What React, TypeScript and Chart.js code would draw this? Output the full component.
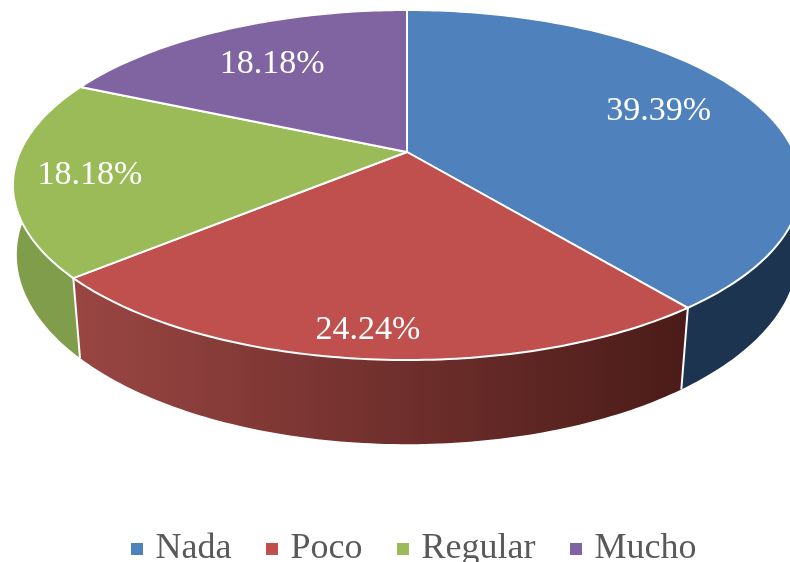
import React, { useEffect, useRef } from "react";
import { Chart, registerables } from "chart.js";

Chart.register(...registerables);

const categories = ["Nada", "Poco", "Regular", "Mucho"];
const shares = [39.39, 24.24, 18.18, 18.18];
const topColors = ["#4f81bd", "#c0504d", "#9bbb59", "#8064a2"];
const sideStart = ["#1d3450", "#9a4643", "#7f9d4a", "#5f4a7c"];
const sideEnd = ["#1d3450", "#4a1b18", "#7f9d4a", "#5f4a7c"];
const labelReach = [0.726, 0.885, 0.81, 0.695];
const labelTurn = [-0.02, 0, -0.022, -0.018];

const FONT = '"Liberation Serif", "Times New Roman", serif';

// Projection of the pie's disc onto the page: a tilted disc seen in perspective.
const CX = 407;
const project = (u: number, v: number, tilt: number, rx: number, cy: number, ry: number) => {
  const w = 1 - tilt * v;
  return { x: CX + (rx * u) / w, y: cy + (ry * v) / w };
};
const topPt = (u: number, v: number) => project(u, v, 0.1886, 387, 152, 168.8);
const lowPt = (u: number, v: number) => project(u, v, 0.17, 384.5, 222.5, 184);

const rim = (a0: number, a1: number, fn: (u: number, v: number) => { x: number; y: number }) => {
  const n = Math.max(4, Math.ceil((a1 - a0) * 60));
  const pts = [];
  for (let i = 0; i <= n; i++) {
    const a = a0 + ((a1 - a0) * i) / n;
    pts.push(fn(Math.cos(a), Math.sin(a)));
  }
  return pts;
};

const swatch = (color: string) => {
  const c = document.createElement("canvas");
  c.width = 12;
  c.height = 12;
  const g = c.getContext("2d")!;
  g.fillStyle = color;
  g.fillRect(0, 0, 12, 12);
  return c;
};

const projectedPie = {
  id: "projectedPie",
  beforeDatasetsDraw(chart: any) {
    const ctx = chart.ctx;
    const arcs = chart.getDatasetMeta(0).data;
    ctx.save();
    // side walls first
    arcs.forEach((arc: any, i: number) => {
      const top = rim(arc.startAngle, arc.endAngle, topPt);
      const low = rim(arc.startAngle, arc.endAngle, lowPt);
      const xs = top.map((p) => p.x);
      const g = ctx.createLinearGradient(Math.min(...xs), 0, Math.max(...xs), 0);
      g.addColorStop(0, sideStart[i]);
      g.addColorStop(1, sideEnd[i]);
      ctx.beginPath();
      top.forEach((p, k) => (k ? ctx.lineTo(p.x, p.y) : ctx.moveTo(p.x, p.y)));
      low.reverse().forEach((p) => ctx.lineTo(p.x, p.y));
      ctx.closePath();
      ctx.fillStyle = g;
      ctx.fill();
    });
    ctx.strokeStyle = "#ffffff";
    ctx.lineWidth = 2;
    arcs.forEach((arc: any) => {
      const u = Math.cos(arc.endAngle);
      const v = Math.sin(arc.endAngle);
      const a = topPt(u, v);
      const b = lowPt(u, v);
      ctx.beginPath();
      ctx.moveTo(a.x, a.y);
      ctx.lineTo(b.x, b.y);
      ctx.stroke();
    });
    // top faces
    ctx.lineJoin = "round";
    arcs.forEach((arc: any, i: number) => {
      ctx.beginPath();
      ctx.moveTo(CX, 152);
      rim(arc.startAngle, arc.endAngle, topPt).forEach((p) => ctx.lineTo(p.x, p.y));
      ctx.closePath();
      ctx.fillStyle = topColors[i];
      ctx.fill();
      ctx.stroke();
    });
    // value labels
    ctx.fillStyle = "#ffffff";
    ctx.font = `34px ${FONT}`;
    ctx.textAlign = "center";
    ctx.textBaseline = "middle";
    arcs.forEach((arc: any, i: number) => {
      const m = (arc.startAngle + arc.endAngle) / 2 + labelTurn[i];
      const p = topPt(Math.cos(m) * labelReach[i], Math.sin(m) * labelReach[i]);
      ctx.fillText(`${shares[i].toFixed(2)}%`, p.x, p.y);
    });
    ctx.restore();
    return false;
  },
};

export default function App() {
  const ref = useRef<HTMLCanvasElement>(null);
  useEffect(() => {
    const chart = new Chart(ref.current!, {
      type: "pie",
      data: {
        labels: categories,
        datasets: [{ data: shares, backgroundColor: topColors, borderWidth: 0 }],
      },
      options: {
        responsive: false,
        animation: false,
        layout: { padding: { left: 43, bottom: -15 } },
        plugins: {
          tooltip: { enabled: false },
          legend: {
            position: "bottom",
            labels: {
              color: "#595959",
              font: { family: FONT, size: 36 },
              usePointStyle: true,
              pointStyleWidth: 1,
              boxHeight: 12,
              padding: 40,
              generateLabels: (c: any) =>
                (Chart as any).overrides.doughnut.plugins.legend.labels
                  .generateLabels(c)
                  .map((item: any, i: number) => ({ ...item, pointStyle: swatch(topColors[i]) })),
            },
          },
        },
      },
      plugins: [projectedPie],
    } as any);
    return () => chart.destroy();
  }, []);
  return (
    <div style={{ position: "absolute", left: 0, top: 0, width: 790, height: 562, background: "#fff", overflow: "hidden" }}>
      <canvas ref={ref} width={790} height={562} style={{ display: "block", filter: "blur(0.6px)" }} />
    </div>
  );
}
